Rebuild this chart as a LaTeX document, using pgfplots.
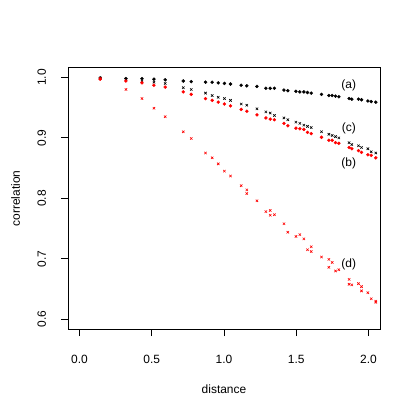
\documentclass[border=0pt]{standalone}
\usepackage{pgfplots}
\pgfplotsset{compat=1.18}
\usepackage{pgfplotstable}
\usepackage{fontspec}
\setmainfont{Liberation Sans}

% distance / correlation, four series
\pgfplotstableread{
x y
0.143 0.999
0.321 0.998
0.432 0.998
0.515 0.997
0.593 0.996
0.718 0.994
0.773 0.993
0.872 0.992
0.918 0.992
0.960 0.991
1.003 0.990
1.045 0.989
1.119 0.987
1.158 0.986
1.228 0.985
1.290 0.982
1.320 0.982
1.349 0.982
1.415 0.979
1.442 0.978
1.498 0.977
1.525 0.976
1.553 0.976
1.578 0.975
1.604 0.974
1.675 0.972
1.726 0.970
1.749 0.970
1.772 0.969
1.795 0.968
1.866 0.965
1.885 0.964
1.931 0.964
1.952 0.963
1.996 0.961
2.019 0.960
2.051 0.959
}\seriesA

\pgfplotstableread{
x y
0.143 0.997
0.321 0.994
0.432 0.991
0.515 0.987
0.593 0.984
0.718 0.976
0.773 0.972
0.872 0.965
0.918 0.962
0.960 0.959
1.003 0.956
1.045 0.953
1.119 0.947
1.158 0.944
1.228 0.938
1.290 0.933
1.320 0.931
1.349 0.930
1.415 0.924
1.442 0.920
1.498 0.916
1.525 0.915
1.553 0.914
1.578 0.909
1.604 0.907
1.675 0.901
1.726 0.896
1.749 0.896
1.772 0.892
1.795 0.891
1.866 0.884
1.885 0.882
1.931 0.879
1.952 0.876
1.996 0.872
2.019 0.871
2.051 0.867
}\seriesB

\pgfplotstableread{
x y
0.143 0.999
0.321 0.997
0.432 0.994
0.515 0.992
0.593 0.990
0.718 0.983
0.773 0.980
0.872 0.974
0.918 0.970
0.960 0.967
1.003 0.965
1.045 0.962
1.119 0.956
1.158 0.954
1.228 0.948
1.290 0.943
1.320 0.941
1.349 0.937
1.415 0.933
1.442 0.930
1.498 0.926
1.525 0.924
1.553 0.921
1.578 0.919
1.604 0.917
1.675 0.910
1.726 0.906
1.749 0.904
1.772 0.902
1.795 0.900
1.866 0.892
1.885 0.889
1.931 0.887
1.952 0.884
1.996 0.882
2.019 0.877
2.051 0.875
}\seriesC

\pgfplotstableread{
x y
0.143 0.998
0.321 0.980
0.432 0.965
0.515 0.949
0.593 0.935
0.718 0.910
0.773 0.899
0.872 0.875
0.918 0.867
0.960 0.857
1.003 0.845
1.045 0.837
1.119 0.821
1.158 0.814
1.158 0.808
1.228 0.796
1.290 0.778
1.320 0.780
1.320 0.772
1.349 0.773
1.415 0.758
1.442 0.744
1.498 0.737
1.525 0.740
1.553 0.733
1.578 0.715
1.604 0.720
1.604 0.712
1.675 0.703
1.726 0.699
1.726 0.686
1.749 0.694
1.772 0.680
1.795 0.682
1.866 0.666
1.866 0.658
1.885 0.657
1.931 0.659
1.952 0.654
1.952 0.647
1.996 0.644
2.019 0.634
2.051 0.630
2.051 0.628
}\seriesD

\begin{document}
\begin{tikzpicture}
\path[use as bounding box] (0,0) rectangle (415bp,415bp);
\begin{axis}[at={(68bp,86bp)}, anchor=south west, scale only axis,
  width=312bp, height=261.3bp,
  xmin=-0.08, xmax=2.08, ymin=0.584, ymax=1.016,
  axis line style={line width=0.75pt},
  xtick={0,0.5,1,1.5,2}, ytick={0.6,0.7,0.8,0.9,1.0},
  xticklabels={0.0,0.5,1.0,1.5,2.0}, yticklabels={0.6,0.7,0.8,0.9,1.0},
  tick align=outside, major tick length=7.2bp, tick style={black, line width=0.75pt},
  xtick pos=lower, ytick pos=left,
  font=\fontsize{12}{14}\selectfont,
  xticklabel style={anchor=center, yshift=-23bp},
  yticklabel style={rotate=90, anchor=center},
  yticklabel shift=19bp,
  xlabel={distance}, ylabel={correlation},
  every axis x label/.style={at={(axis description cs:0.5,-0.2308)}, anchor=center},
  every axis y label/.style={at={(axis description cs:-0.1676,0.5)}, rotate=90, anchor=center},
  clip=false]
\addplot[only marks, mark=*, mark size=1.5bp, black] table[x=x,y=y] {\seriesA};
\addplot[only marks, mark=x, mark size=1.7bp, black, line width=0.6pt] table[x=x,y=y] {\seriesC};
\addplot[only marks, mark=*, mark size=1.5bp, red] table[x=x,y=y] {\seriesB};
\addplot[only marks, mark=x, mark size=1.7bp, red, line width=0.6pt] table[x=x,y=y] {\seriesD};
\node at (axis cs:1.864,0.986) {(a)};
\node at (axis cs:1.864,0.915) {(c)};
\node at (axis cs:1.864,0.857) {(b)};
\node at (axis cs:1.864,0.690) {(d)};
\end{axis}
\end{tikzpicture}
\end{document}
